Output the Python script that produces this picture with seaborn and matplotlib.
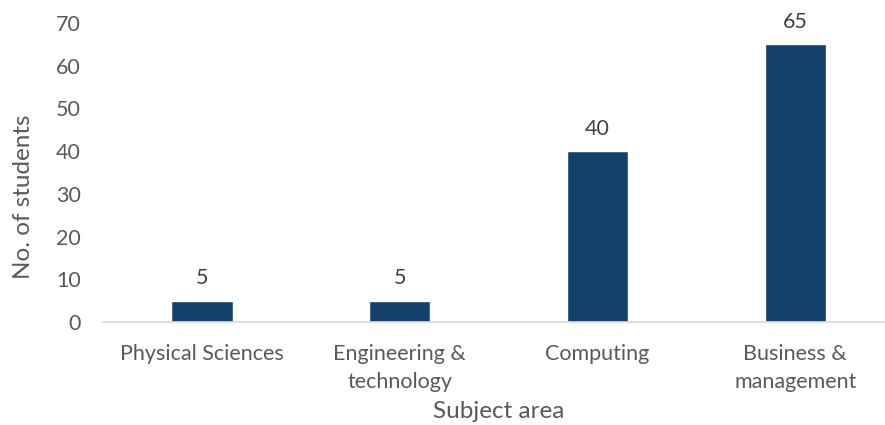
import matplotlib
matplotlib.use("Agg")
import matplotlib.pyplot as plt
import seaborn as sns
import pandas as pd

subjects = ["Physical Sciences", "Engineering &\ntechnology", "Computing", "Business &\nmanagement"]
students = [5, 5, 40, 65]
y_ticks = [0, 10, 20, 30, 40, 50, 60, 70]

sns.set_theme(style="white")
plt.rcParams["font.family"] = ["Lato", "DejaVu Sans"]

text_grey = "#595959"
bar_blue = "#14416B"

df = pd.DataFrame({"Subject area": subjects, "No. of students": students})

fig = plt.figure(figsize=(8.85, 4.25), dpi=100)
ax = fig.add_axes([0.1164, 0.242, 0.894, 0.704])

sns.barplot(data=df, x="Subject area", y="No. of students", color=bar_blue,
            width=0.31, saturation=1, ax=ax)

ax.set_ylim(0, 70)
ax.set_yticks(y_ticks)
ax.set_xticks(range(len(subjects)))
ax.set_xticklabels(subjects, linespacing=1.45)
ax.tick_params(axis="both", length=0, labelsize=15.5, labelcolor=text_grey)
ax.tick_params(axis="y", pad=16)
ax.tick_params(axis="x", pad=16)

for s in ["top", "right", "left"]:
    ax.spines[s].set_visible(False)
ax.spines["bottom"].set_color("#D9D9D9")
ax.spines["bottom"].set_linewidth(1.2)

ax.bar_label(ax.containers[0], labels=[str(v) for v in students],
             padding=9, fontsize=15.5, color="#404040")

ax.set_xlabel("Subject area", fontsize=17.5, color=text_grey)
ax.xaxis.label.set_va("center")
ax.xaxis.set_label_coords(0.5, -0.298)
ax.set_ylabel("No. of students", fontsize=17.5, color=text_grey)
ax.yaxis.label.set_va("center")
ax.yaxis.set_label_coords(-0.1, 0.418)

fig.savefig("out.png", dpi=100)
